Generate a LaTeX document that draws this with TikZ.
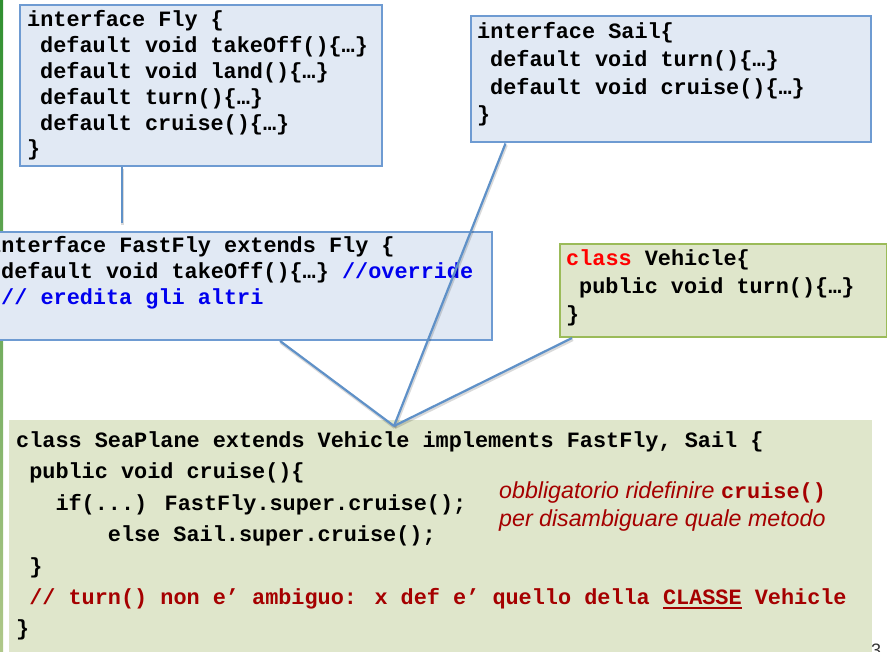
\documentclass[tikz,border=0pt]{standalone}
\usepackage{fontspec}
\setmainfont{Liberation Sans}
\newfontfamily\cmono{Liberation Mono}
\definecolor{boxfill}{HTML}{E1E9F4}
\definecolor{boxblue}{HTML}{6E9BD2}
\definecolor{lineblue}{HTML}{5F91C8}
\definecolor{greenfill}{HTML}{DFE6CB}
\definecolor{greenedge}{HTML}{9BBB59}
\definecolor{dred}{HTML}{A50000}
\definecolor{cblue}{HTML}{0000EE}
\definecolor{kred}{HTML}{FF0000}
\begin{document}
\begin{tikzpicture}[x=1pt,y=-1pt,
  ifbox/.style={draw=boxblue, line width=2pt, fill=boxfill, inner sep=0pt, anchor=north west},
  clbox/.style={draw=greenedge, line width=2pt, fill=greenfill, inner sep=0pt, anchor=north west},
  seabox/.style={fill=greenfill, inner sep=0pt, anchor=north west},
  code/.style={font=\fontsize{21.85pt}{26pt}\cmono\bfseries, anchor=base west, inner sep=0pt},
  note/.style={font=\fontsize{23.2pt}{28pt}\selectfont\itshape, text=dred, anchor=base west, inner sep=0pt},
  conn/.style={draw=lineblue, line width=2.2pt,
    preaction={draw=black, opacity=0.15, line width=3pt, transform canvas={shift={(0.8pt,-1.6pt)}}}}
]
\useasboundingbox (0,0) rectangle (887,652);
\shade[top color={rgb,255:red,47;green,143;blue,47}, bottom color={rgb,255:red,176;green,200;blue,138}] (0,0) rectangle (3,652);

% boxes
\node[seabox, minimum width=863.4pt, minimum height=240pt] (seaplane) at (8.3,420) {};
\node[ifbox, minimum width=362pt, minimum height=160.5pt] (fly) at (19,4.5) {};
\node[ifbox, minimum width=400pt, minimum height=126.5pt] (sail) at (469.5,15) {};
\node[ifbox, minimum width=500.5pt, minimum height=108pt] (fastfly) at (-10,231) {};
\node[clbox, minimum width=326.5pt, minimum height=93.3pt] (vehicle) at (559,242.7) {};

% Fly
\node[code] (f1) at (27,26.5) {interface Fly \{};
\node[code] (f2) at (40,52.4) {default void takeOff()\{…\}};
\node[code] (f3) at (40,78.3) {default void land()\{…\}};
\node[code] (f4) at (40,104.2) {default turn()\{…\}};
\node[code] (f5) at (40,130.1) {default cruise()\{…\}};
\node[code] (f6) at (27,156) {\}};

% Sail
\node[code] (s1) at (477,38.5) {interface Sail\{};
\node[code] (s2) at (490,66.5) {default void turn()\{…\}};
\node[code] (s3) at (490,94.5) {default void cruise()\{…\}};
\node[code] (s4) at (477,122) {\}};

% FastFly
\node[code] (ff1) at (-12,253) {interface FastFly extends Fly \{};
\node[code] (ff2) at (1,279) {default void takeOff()\{…\} \textcolor{cblue}{//override}};
\node[code, text=cblue] (ff3) at (1,304.5) {// eredita gli altri};

% Vehicle
\node[code] (v1) at (566,265.5) {\textcolor{kred}{class} Vehicle\{};
\node[code] (v2) at (579,294) {public void turn()\{…\}};
\node[code] (v3) at (566,321.5) {\}};

% SeaPlane
\node[code] (p1) at (16,447) {class SeaPlane extends Vehicle implements FastFly, Sail \{};
\node[code] (p2) at (29.1,478.3) {public void cruise()\{};
\node[code] (p3) at (55.3,510) {if(...) FastFly.super.cruise();};
\node[code] (p4) at (107.7,541.5) {else Sail.super.cruise();};
\node[code] (p5) at (29.1,573) {\}};
\node[code, text=dred] (p6) at (29.1,604) {// turn() non e’ ambiguo: x def e’ quello della \rlap{\rule[-4.5pt]{78.7pt}{1.8pt}}CLASSE Vehicle};
\node[code] (p7) at (16,635.5) {\}};

% note
\node[note] (n1) at (499,498.5) {obbligatorio ridefinire {\fontsize{21.85pt}{26pt}\cmono\bfseries\upshape cruise()}};
\node[note] (n2) at (499,526.5) {per disambiguare quale metodo};

% page number
\node[font=\fontsize{18pt}{20pt}\selectfont, text=black!80, anchor=base west, inner sep=0pt] (pg) at (871,656) {3};

% connectors
\coordinate (apex) at (394,426);
\coordinate (flyfoot) at ([xshift=103pt]fly.south west);
\draw[conn, shorten >=8pt] (flyfoot) -- (flyfoot |- fastfly.north);
\draw[conn] ([xshift=36pt]sail.south west) -- (apex);
\draw[conn] ([xshift=290pt]fastfly.south west) -- (apex);
\draw[conn] ([xshift=13pt]vehicle.south west) -- (apex);
\end{tikzpicture}
\end{document}
